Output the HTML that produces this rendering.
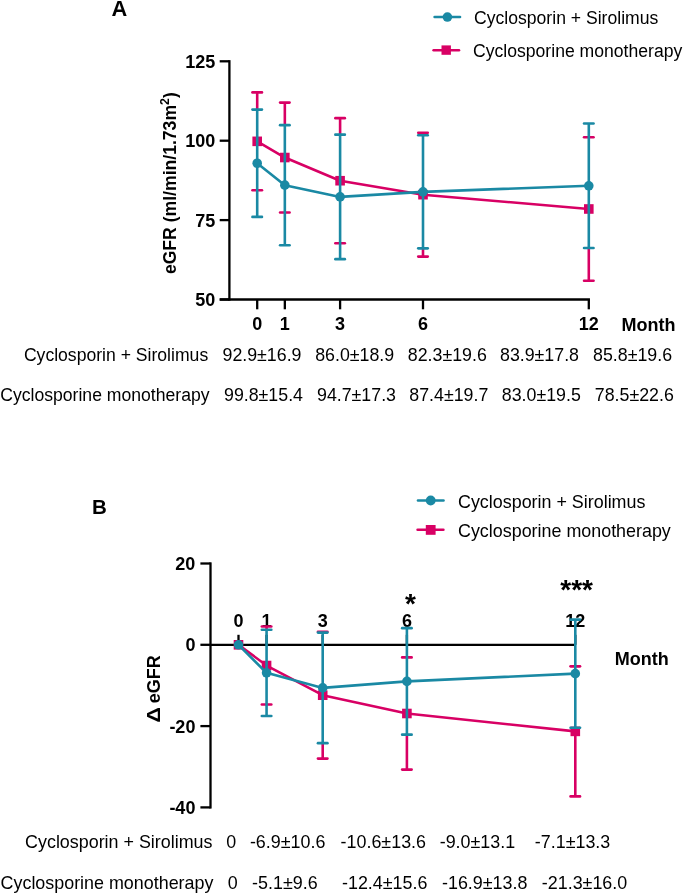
<!DOCTYPE html>
<html><head><meta charset="utf-8"><style>
html,body{margin:0;padding:0;background:#fff;width:685px;height:894px;overflow:hidden}
svg{display:block;will-change:transform}
text{font-family:"Liberation Sans", sans-serif;fill:#000}
</style></head><body>
<svg width="685" height="894" viewBox="0 0 685 894">
<text x="111.40" y="15.60" font-size="21.8" font-weight="700" text-anchor="start" >A</text>
<line x1="434.60" y1="17.05" x2="460.00" y2="17.05" stroke="#1a89a4" stroke-width="2.6" stroke-linecap="round"/>
<circle cx="447.40" cy="17.05" r="4.8" fill="#1a89a4"/>
<line x1="433.60" y1="50.20" x2="459.00" y2="50.20" stroke="#d80064" stroke-width="2.6" stroke-linecap="round"/>
<rect x="441.50" y="45.40" width="9.4" height="9.4" fill="#d80064"/>
<text x="474.00" y="23.90" font-size="17.6" font-weight="400" text-anchor="start" >Cyclosporin + Sirolimus</text>
<text x="473.00" y="57.20" font-size="17.6" font-weight="400" text-anchor="start" >Cyclosporine monotherapy</text>
<line x1="229.40" y1="60.15" x2="229.40" y2="300.65" stroke="#000" stroke-width="2.3" stroke-linecap="butt"/>
<line x1="219.70" y1="299.50" x2="229.40" y2="299.50" stroke="#000" stroke-width="2.3" stroke-linecap="butt"/>
<text x="215.30" y="305.95" font-size="18" font-weight="700" text-anchor="end" >50</text>
<line x1="219.70" y1="220.10" x2="229.40" y2="220.10" stroke="#000" stroke-width="2.3" stroke-linecap="butt"/>
<text x="215.30" y="226.55" font-size="18" font-weight="700" text-anchor="end" >75</text>
<line x1="219.70" y1="140.70" x2="229.40" y2="140.70" stroke="#000" stroke-width="2.3" stroke-linecap="butt"/>
<text x="215.30" y="147.15" font-size="18" font-weight="700" text-anchor="end" >100</text>
<line x1="219.70" y1="61.30" x2="229.40" y2="61.30" stroke="#000" stroke-width="2.3" stroke-linecap="butt"/>
<text x="215.30" y="67.75" font-size="18" font-weight="700" text-anchor="end" >125</text>
<line x1="219.70" y1="299.50" x2="589.95" y2="299.50" stroke="#000" stroke-width="2.3" stroke-linecap="butt"/>
<line x1="257.20" y1="299.50" x2="257.20" y2="309.30" stroke="#000" stroke-width="2.3" stroke-linecap="butt"/>
<text x="257.20" y="329.90" font-size="18" font-weight="700" text-anchor="middle" >0</text>
<line x1="284.83" y1="299.50" x2="284.83" y2="309.30" stroke="#000" stroke-width="2.3" stroke-linecap="butt"/>
<text x="284.83" y="329.90" font-size="18" font-weight="700" text-anchor="middle" >1</text>
<line x1="340.10" y1="299.50" x2="340.10" y2="309.30" stroke="#000" stroke-width="2.3" stroke-linecap="butt"/>
<text x="340.10" y="329.90" font-size="18" font-weight="700" text-anchor="middle" >3</text>
<line x1="423.00" y1="299.50" x2="423.00" y2="309.30" stroke="#000" stroke-width="2.3" stroke-linecap="butt"/>
<text x="423.00" y="329.90" font-size="18" font-weight="700" text-anchor="middle" >6</text>
<line x1="588.80" y1="299.50" x2="588.80" y2="309.30" stroke="#000" stroke-width="2.3" stroke-linecap="butt"/>
<text x="588.80" y="329.90" font-size="18" font-weight="700" text-anchor="middle" >12</text>
<text x="621.50" y="330.90" font-size="18" font-weight="700" text-anchor="start" >Month</text>
<text transform="translate(176.1,274.1) rotate(-90)" font-size="17.6" font-weight="700">eGFR (ml/min/1.73m<tspan font-size="12.3" dy="-7.2">2</tspan><tspan dy="7.2">)</tspan></text>
<polyline points="257.20,141.34 284.83,157.53 340.10,180.72 423.00,194.69 588.80,208.98" fill="none" stroke="#d80064" stroke-width="2.6" stroke-linejoin="round"/>
<line x1="257.20" y1="92.42" x2="257.20" y2="110.58" stroke="#d80064" stroke-width="2.6" stroke-linecap="butt"/>
<line x1="252.45" y1="92.42" x2="261.95" y2="92.42" stroke="#d80064" stroke-width="2.6" stroke-linecap="round"/>
<line x1="252.45" y1="190.25" x2="261.95" y2="190.25" stroke="#d80064" stroke-width="2.6" stroke-linecap="round"/>
<rect x="252.40" y="136.54" width="9.6" height="9.6" fill="#d80064"/>
<line x1="284.83" y1="102.59" x2="284.83" y2="126.14" stroke="#d80064" stroke-width="2.6" stroke-linecap="butt"/>
<line x1="280.08" y1="102.59" x2="289.58" y2="102.59" stroke="#d80064" stroke-width="2.6" stroke-linecap="round"/>
<line x1="280.08" y1="212.48" x2="289.58" y2="212.48" stroke="#d80064" stroke-width="2.6" stroke-linecap="round"/>
<rect x="280.03" y="152.73" width="9.6" height="9.6" fill="#d80064"/>
<line x1="340.10" y1="118.15" x2="340.10" y2="135.67" stroke="#d80064" stroke-width="2.6" stroke-linecap="butt"/>
<line x1="335.35" y1="118.15" x2="344.85" y2="118.15" stroke="#d80064" stroke-width="2.6" stroke-linecap="round"/>
<line x1="335.35" y1="243.28" x2="344.85" y2="243.28" stroke="#d80064" stroke-width="2.6" stroke-linecap="round"/>
<rect x="335.30" y="175.92" width="9.6" height="9.6" fill="#d80064"/>
<line x1="423.00" y1="132.76" x2="423.00" y2="136.30" stroke="#d80064" stroke-width="2.6" stroke-linecap="butt"/>
<line x1="423.00" y1="247.37" x2="423.00" y2="256.62" stroke="#d80064" stroke-width="2.6" stroke-linecap="butt"/>
<line x1="418.25" y1="132.76" x2="427.75" y2="132.76" stroke="#d80064" stroke-width="2.6" stroke-linecap="round"/>
<line x1="418.25" y1="256.62" x2="427.75" y2="256.62" stroke="#d80064" stroke-width="2.6" stroke-linecap="round"/>
<rect x="418.20" y="189.89" width="9.6" height="9.6" fill="#d80064"/>
<line x1="588.80" y1="247.05" x2="588.80" y2="280.76" stroke="#d80064" stroke-width="2.6" stroke-linecap="butt"/>
<line x1="584.05" y1="137.21" x2="593.55" y2="137.21" stroke="#d80064" stroke-width="2.6" stroke-linecap="round"/>
<line x1="584.05" y1="280.76" x2="593.55" y2="280.76" stroke="#d80064" stroke-width="2.6" stroke-linecap="round"/>
<rect x="584.00" y="204.18" width="9.6" height="9.6" fill="#d80064"/>
<polyline points="257.20,163.25 284.83,185.16 340.10,196.92 423.00,191.83 588.80,185.80" fill="none" stroke="#1a89a4" stroke-width="2.6" stroke-linejoin="round"/>
<line x1="257.20" y1="109.58" x2="257.20" y2="216.92" stroke="#1a89a4" stroke-width="2.6" stroke-linecap="butt"/>
<line x1="252.45" y1="109.58" x2="261.95" y2="109.58" stroke="#1a89a4" stroke-width="2.6" stroke-linecap="round"/>
<line x1="252.45" y1="216.92" x2="261.95" y2="216.92" stroke="#1a89a4" stroke-width="2.6" stroke-linecap="round"/>
<circle cx="257.20" cy="163.25" r="4.8" fill="#1a89a4"/>
<line x1="284.83" y1="125.14" x2="284.83" y2="245.19" stroke="#1a89a4" stroke-width="2.6" stroke-linecap="butt"/>
<line x1="280.08" y1="125.14" x2="289.58" y2="125.14" stroke="#1a89a4" stroke-width="2.6" stroke-linecap="round"/>
<line x1="280.08" y1="245.19" x2="289.58" y2="245.19" stroke="#1a89a4" stroke-width="2.6" stroke-linecap="round"/>
<circle cx="284.83" cy="185.16" r="4.8" fill="#1a89a4"/>
<line x1="340.10" y1="134.67" x2="340.10" y2="259.16" stroke="#1a89a4" stroke-width="2.6" stroke-linecap="butt"/>
<line x1="335.35" y1="134.67" x2="344.85" y2="134.67" stroke="#1a89a4" stroke-width="2.6" stroke-linecap="round"/>
<line x1="335.35" y1="259.16" x2="344.85" y2="259.16" stroke="#1a89a4" stroke-width="2.6" stroke-linecap="round"/>
<circle cx="340.10" cy="196.92" r="4.8" fill="#1a89a4"/>
<line x1="423.00" y1="135.30" x2="423.00" y2="248.37" stroke="#1a89a4" stroke-width="2.6" stroke-linecap="butt"/>
<line x1="418.25" y1="135.30" x2="427.75" y2="135.30" stroke="#1a89a4" stroke-width="2.6" stroke-linecap="round"/>
<line x1="418.25" y1="248.37" x2="427.75" y2="248.37" stroke="#1a89a4" stroke-width="2.6" stroke-linecap="round"/>
<circle cx="423.00" cy="191.83" r="4.8" fill="#1a89a4"/>
<line x1="588.80" y1="123.55" x2="588.80" y2="248.05" stroke="#1a89a4" stroke-width="2.6" stroke-linecap="butt"/>
<line x1="584.05" y1="123.55" x2="593.55" y2="123.55" stroke="#1a89a4" stroke-width="2.6" stroke-linecap="round"/>
<line x1="584.05" y1="248.05" x2="593.55" y2="248.05" stroke="#1a89a4" stroke-width="2.6" stroke-linecap="round"/>
<circle cx="588.80" cy="185.80" r="4.8" fill="#1a89a4"/>
<text x="208.20" y="360.90" font-size="17.6" font-weight="400" text-anchor="end" >Cyclosporin + Sirolimus</text>
<text x="209.50" y="401.20" font-size="17.6" font-weight="400" text-anchor="end" >Cyclosporine monotherapy</text>
<text x="222.50" y="360.90" font-size="17.8" font-weight="400" text-anchor="start" >92.9±16.9</text>
<text x="315.20" y="360.90" font-size="17.8" font-weight="400" text-anchor="start" >86.0±18.9</text>
<text x="407.80" y="360.90" font-size="17.8" font-weight="400" text-anchor="start" >82.3±19.6</text>
<text x="500.00" y="360.90" font-size="17.8" font-weight="400" text-anchor="start" >83.9±17.8</text>
<text x="593.10" y="360.90" font-size="17.8" font-weight="400" text-anchor="start" >85.8±19.6</text>
<text x="224.00" y="401.20" font-size="17.8" font-weight="400" text-anchor="start" >99.8±15.4</text>
<text x="317.00" y="401.20" font-size="17.8" font-weight="400" text-anchor="start" >94.7±17.3</text>
<text x="409.30" y="401.20" font-size="17.8" font-weight="400" text-anchor="start" >87.4±19.7</text>
<text x="501.80" y="401.20" font-size="17.8" font-weight="400" text-anchor="start" >83.0±19.5</text>
<text x="594.80" y="401.20" font-size="17.8" font-weight="400" text-anchor="start" >78.5±22.6</text>
<text x="92.00" y="514.20" font-size="20.5" font-weight="700" text-anchor="start" >B</text>
<line x1="418.00" y1="500.50" x2="443.50" y2="500.50" stroke="#1a89a4" stroke-width="2.6" stroke-linecap="round"/>
<circle cx="430.70" cy="500.50" r="4.9" fill="#1a89a4"/>
<line x1="417.60" y1="529.80" x2="443.40" y2="529.80" stroke="#d80064" stroke-width="2.6" stroke-linecap="round"/>
<rect x="425.80" y="525.00" width="9.8" height="9.8" fill="#d80064"/>
<text x="458.00" y="507.60" font-size="17.9" font-weight="400" text-anchor="start" >Cyclosporin + Sirolimus</text>
<text x="458.00" y="537.20" font-size="17.9" font-weight="400" text-anchor="start" >Cyclosporine monotherapy</text>
<line x1="210.50" y1="562.35" x2="210.50" y2="808.55" stroke="#000" stroke-width="2.3" stroke-linecap="butt"/>
<line x1="200.40" y1="563.50" x2="210.50" y2="563.50" stroke="#000" stroke-width="2.3" stroke-linecap="butt"/>
<text x="195.40" y="569.95" font-size="18" font-weight="700" text-anchor="end" >20</text>
<line x1="200.40" y1="644.80" x2="210.50" y2="644.80" stroke="#000" stroke-width="2.3" stroke-linecap="butt"/>
<text x="195.40" y="651.25" font-size="18" font-weight="700" text-anchor="end" >0</text>
<line x1="200.40" y1="726.10" x2="210.50" y2="726.10" stroke="#000" stroke-width="2.3" stroke-linecap="butt"/>
<text x="195.40" y="732.55" font-size="18" font-weight="700" text-anchor="end" >-20</text>
<line x1="200.40" y1="807.40" x2="210.50" y2="807.40" stroke="#000" stroke-width="2.3" stroke-linecap="butt"/>
<text x="195.40" y="813.85" font-size="18" font-weight="700" text-anchor="end" >-40</text>
<line x1="210.50" y1="644.80" x2="575.30" y2="644.80" stroke="#000" stroke-width="2.3" stroke-linecap="butt"/>
<line x1="238.50" y1="644.80" x2="238.50" y2="634.80" stroke="#000" stroke-width="2.3" stroke-linecap="butt"/>
<text x="238.50" y="627.20" font-size="18" font-weight="700" text-anchor="middle" >0</text>
<line x1="266.57" y1="644.80" x2="266.57" y2="634.80" stroke="#000" stroke-width="2.3" stroke-linecap="butt"/>
<text x="266.57" y="627.20" font-size="18" font-weight="700" text-anchor="middle" >1</text>
<line x1="322.70" y1="644.80" x2="322.70" y2="634.80" stroke="#000" stroke-width="2.3" stroke-linecap="butt"/>
<text x="322.70" y="627.20" font-size="18" font-weight="700" text-anchor="middle" >3</text>
<line x1="406.90" y1="644.80" x2="406.90" y2="634.80" stroke="#000" stroke-width="2.3" stroke-linecap="butt"/>
<text x="406.90" y="627.20" font-size="18" font-weight="700" text-anchor="middle" >6</text>
<line x1="575.30" y1="644.80" x2="575.30" y2="634.80" stroke="#000" stroke-width="2.3" stroke-linecap="butt"/>
<text x="575.30" y="627.20" font-size="18" font-weight="700" text-anchor="middle" >12</text>
<text x="614.70" y="665.30" font-size="18" font-weight="700" text-anchor="start" >Month</text>
<g transform="translate(160.2,0) rotate(-90)"><text transform="translate(-722.8,0) scale(1.2,1)" font-size="18" font-weight="700">Δ</text><text x="-703.3" font-size="18" font-weight="700">eGFR</text></g>
<text x="410.50" y="613.00" font-size="28" font-weight="700" text-anchor="middle" >*</text>
<text x="576.60" y="599.00" font-size="28" font-weight="700" text-anchor="middle" >***</text>
<polyline points="238.50,644.80 266.57,665.53 322.70,695.21 406.90,713.50 575.30,731.38" fill="none" stroke="#d80064" stroke-width="2.6" stroke-linejoin="round"/>
<rect x="233.70" y="640.00" width="9.6" height="9.6" fill="#d80064"/>
<line x1="266.57" y1="626.51" x2="266.57" y2="630.76" stroke="#d80064" stroke-width="2.6" stroke-linecap="butt"/>
<line x1="261.82" y1="626.51" x2="271.32" y2="626.51" stroke="#d80064" stroke-width="2.6" stroke-linecap="round"/>
<line x1="261.82" y1="704.56" x2="271.32" y2="704.56" stroke="#d80064" stroke-width="2.6" stroke-linecap="round"/>
<rect x="261.77" y="660.73" width="9.6" height="9.6" fill="#d80064"/>
<line x1="322.70" y1="631.79" x2="322.70" y2="633.61" stroke="#d80064" stroke-width="2.6" stroke-linecap="butt"/>
<line x1="322.70" y1="742.17" x2="322.70" y2="758.62" stroke="#d80064" stroke-width="2.6" stroke-linecap="butt"/>
<line x1="317.95" y1="631.79" x2="327.45" y2="631.79" stroke="#d80064" stroke-width="2.6" stroke-linecap="round"/>
<line x1="317.95" y1="758.62" x2="327.45" y2="758.62" stroke="#d80064" stroke-width="2.6" stroke-linecap="round"/>
<rect x="317.90" y="690.41" width="9.6" height="9.6" fill="#d80064"/>
<line x1="406.90" y1="733.64" x2="406.90" y2="769.60" stroke="#d80064" stroke-width="2.6" stroke-linecap="butt"/>
<line x1="402.15" y1="657.40" x2="411.65" y2="657.40" stroke="#d80064" stroke-width="2.6" stroke-linecap="round"/>
<line x1="402.15" y1="769.60" x2="411.65" y2="769.60" stroke="#d80064" stroke-width="2.6" stroke-linecap="round"/>
<rect x="402.10" y="708.70" width="9.6" height="9.6" fill="#d80064"/>
<line x1="575.30" y1="726.73" x2="575.30" y2="796.42" stroke="#d80064" stroke-width="2.6" stroke-linecap="butt"/>
<line x1="570.55" y1="666.34" x2="580.05" y2="666.34" stroke="#d80064" stroke-width="2.6" stroke-linecap="round"/>
<line x1="570.55" y1="796.42" x2="580.05" y2="796.42" stroke="#d80064" stroke-width="2.6" stroke-linecap="round"/>
<rect x="570.50" y="726.58" width="9.6" height="9.6" fill="#d80064"/>
<polyline points="238.50,644.80 266.57,672.85 322.70,687.89 406.90,681.38 575.30,673.66" fill="none" stroke="#1a89a4" stroke-width="2.6" stroke-linejoin="round"/>
<circle cx="238.50" cy="644.80" r="4.8" fill="#1a89a4"/>
<line x1="266.57" y1="629.76" x2="266.57" y2="715.94" stroke="#1a89a4" stroke-width="2.6" stroke-linecap="butt"/>
<line x1="261.82" y1="629.76" x2="271.32" y2="629.76" stroke="#1a89a4" stroke-width="2.6" stroke-linecap="round"/>
<line x1="261.82" y1="715.94" x2="271.32" y2="715.94" stroke="#1a89a4" stroke-width="2.6" stroke-linecap="round"/>
<circle cx="266.57" cy="672.85" r="4.8" fill="#1a89a4"/>
<line x1="322.70" y1="632.61" x2="322.70" y2="743.17" stroke="#1a89a4" stroke-width="2.6" stroke-linecap="butt"/>
<line x1="317.95" y1="632.61" x2="327.45" y2="632.61" stroke="#1a89a4" stroke-width="2.6" stroke-linecap="round"/>
<line x1="317.95" y1="743.17" x2="327.45" y2="743.17" stroke="#1a89a4" stroke-width="2.6" stroke-linecap="round"/>
<circle cx="322.70" cy="687.89" r="4.8" fill="#1a89a4"/>
<line x1="406.90" y1="628.13" x2="406.90" y2="734.64" stroke="#1a89a4" stroke-width="2.6" stroke-linecap="butt"/>
<line x1="402.15" y1="628.13" x2="411.65" y2="628.13" stroke="#1a89a4" stroke-width="2.6" stroke-linecap="round"/>
<line x1="402.15" y1="734.64" x2="411.65" y2="734.64" stroke="#1a89a4" stroke-width="2.6" stroke-linecap="round"/>
<circle cx="406.90" cy="681.38" r="4.8" fill="#1a89a4"/>
<line x1="575.30" y1="619.60" x2="575.30" y2="727.73" stroke="#1a89a4" stroke-width="2.6" stroke-linecap="butt"/>
<line x1="570.55" y1="619.60" x2="580.05" y2="619.60" stroke="#1a89a4" stroke-width="2.6" stroke-linecap="round"/>
<line x1="570.55" y1="727.73" x2="580.05" y2="727.73" stroke="#1a89a4" stroke-width="2.6" stroke-linecap="round"/>
<circle cx="575.30" cy="673.66" r="4.8" fill="#1a89a4"/>
<text x="212.50" y="848.20" font-size="17.9" font-weight="400" text-anchor="end" >Cyclosporin + Sirolimus</text>
<text x="213.40" y="889.40" font-size="17.9" font-weight="400" text-anchor="end" >Cyclosporine monotherapy</text>
<text x="226.30" y="848.20" font-size="17.9" font-weight="400" text-anchor="start" >0</text>
<text x="249.90" y="848.20" font-size="17.9" font-weight="400" text-anchor="start" >-6.9±10.6</text>
<text x="340.60" y="848.20" font-size="17.9" font-weight="400" text-anchor="start" >-10.6±13.6</text>
<text x="439.70" y="848.20" font-size="17.9" font-weight="400" text-anchor="start" >-9.0±13.1</text>
<text x="534.80" y="848.20" font-size="17.9" font-weight="400" text-anchor="start" >-7.1±13.3</text>
<text x="227.70" y="889.40" font-size="17.9" font-weight="400" text-anchor="start" >0</text>
<text x="252.10" y="889.40" font-size="17.9" font-weight="400" text-anchor="start" >-5.1±9.6</text>
<text x="342.00" y="889.40" font-size="17.9" font-weight="400" text-anchor="start" >-12.4±15.6</text>
<text x="442.00" y="889.40" font-size="17.9" font-weight="400" text-anchor="start" >-16.9±13.8</text>
<text x="541.80" y="889.40" font-size="17.9" font-weight="400" text-anchor="start" >-21.3±16.0</text>
</svg>
</body></html>
